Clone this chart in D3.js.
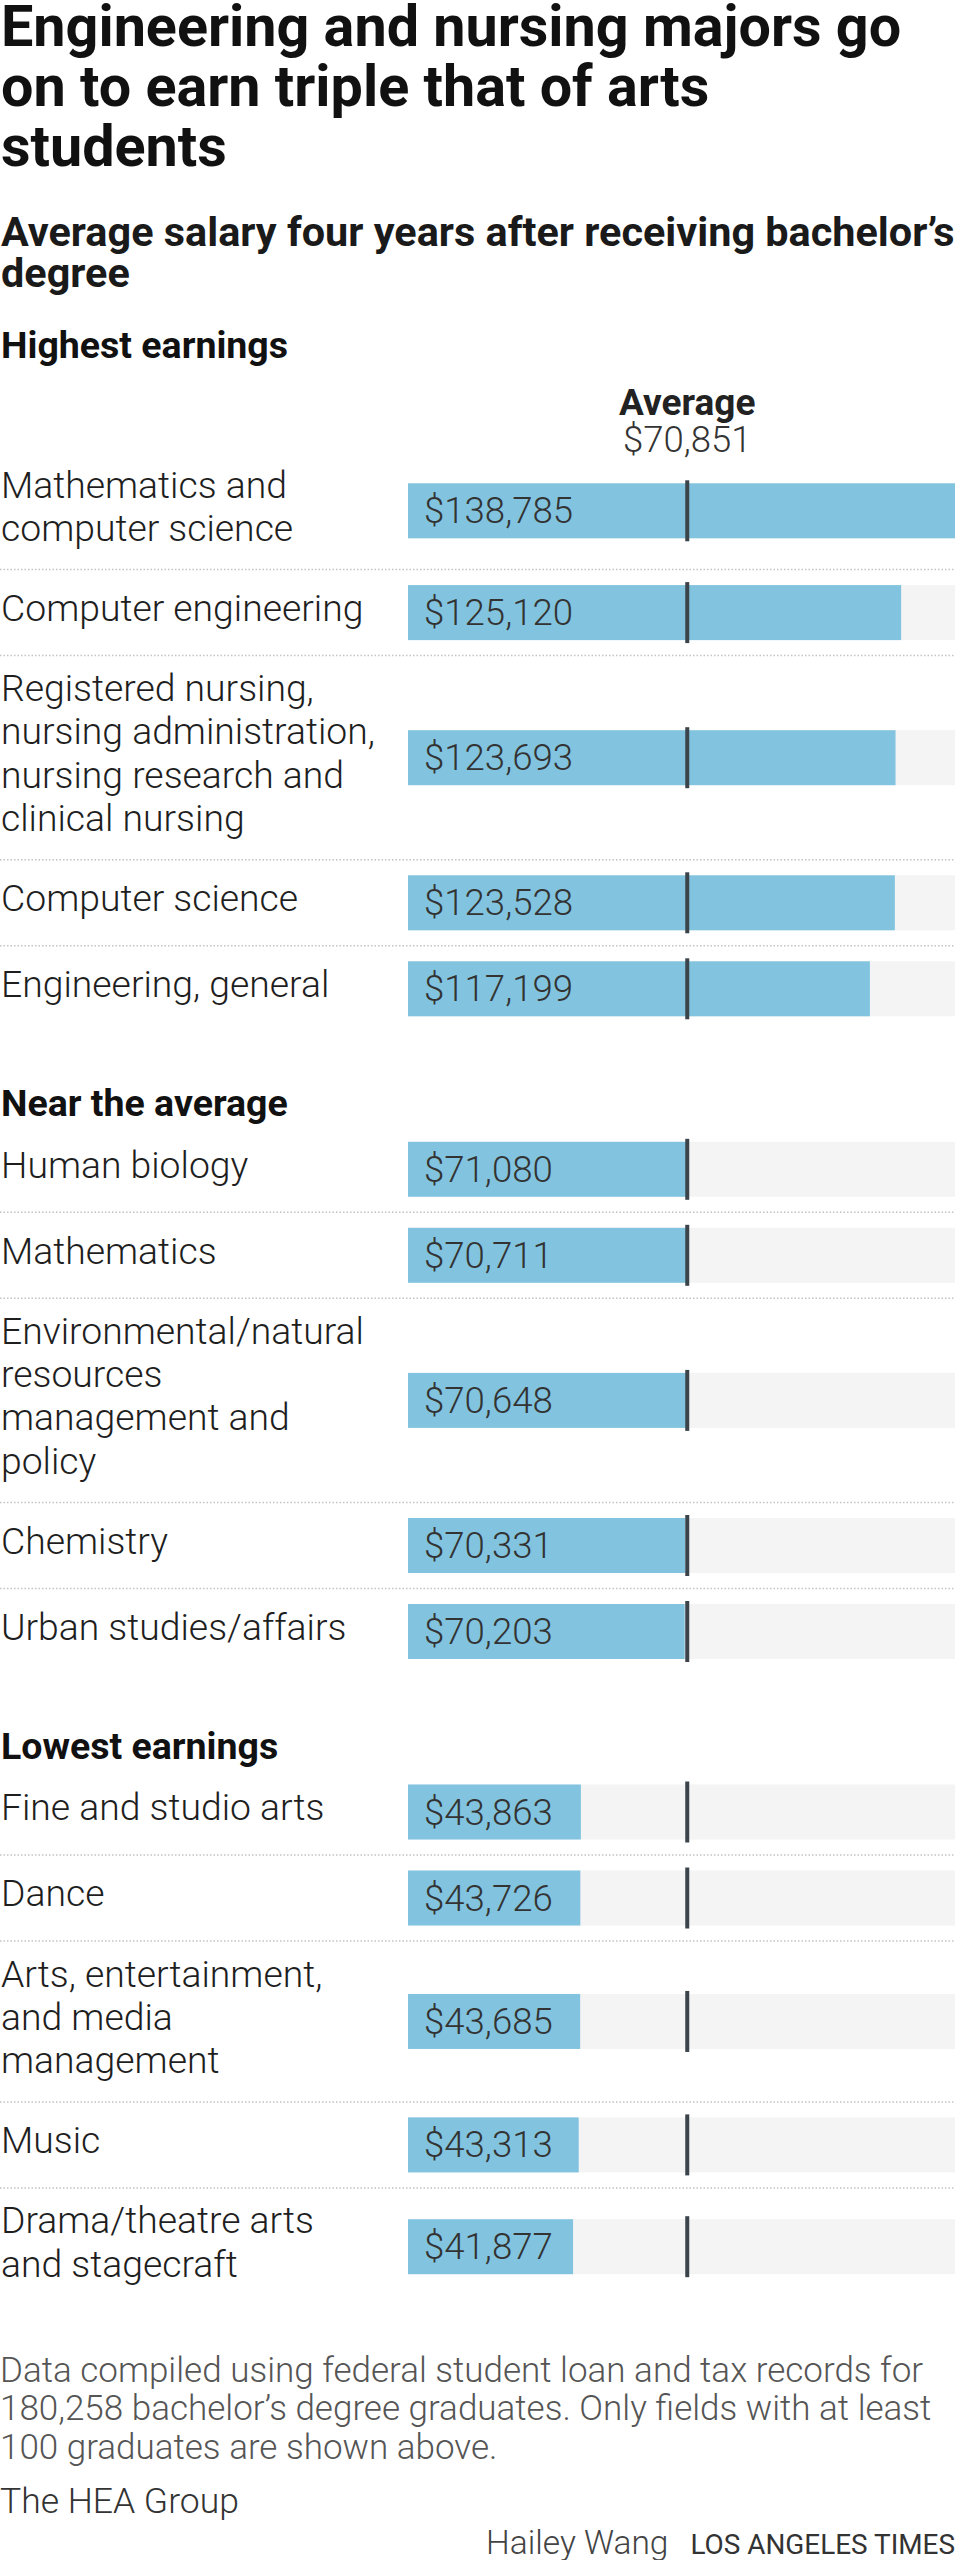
<!DOCTYPE html>
<html>
<head>
<meta charset="utf-8">
<script src="https://cdn.jsdelivr.net/npm/d3@7"></script>
<style>
  html, body { margin: 0; padding: 0; background: #fff; }
  svg { display: block; font-family: Roboto, "Liberation Sans", sans-serif; }
</style>
</head>
<body>
<div id="chart"></div>
<script>
// ---------- data ----------
const titleLines = ["Engineering and nursing majors go", "on to earn triple that of arts", "students"];
const subtitleLines = ["Average salary four years after receiving bachelor’s", "degree"];
const groupNames = ["Highest earnings", "Near the average", "Lowest earnings"];
const categories = [
  ["Mathematics and", "computer science"],
  ["Computer engineering"],
  ["Registered nursing,", "nursing administration,", "nursing research and", "clinical nursing"],
  ["Computer science"],
  ["Engineering, general"],
  ["Human biology"],
  ["Mathematics"],
  ["Environmental/natural", "resources", "management and", "policy"],
  ["Chemistry"],
  ["Urban studies/affairs"],
  ["Fine and studio arts"],
  ["Dance"],
  ["Arts, entertainment,", "and media", "management"],
  ["Music"],
  ["Drama/theatre arts", "and stagecraft"]
];
const salaries = [138785, 125120, 123693, 123528, 117199,
                  71080, 70711, 70648, 70331, 70203,
                  43863, 43726, 43685, 43313, 41877];
const groupOf = [0,0,0,0,0, 1,1,1,1,1, 2,2,2,2,2];
const averageSalary = 70851;
const averageLabel = "Average";
const noteLines = ["Data compiled using federal student loan and tax records for",
                   "180,258 bachelor’s degree graduates. Only fields with at least",
                   "100 graduates are shown above."];
const sourceText = "The HEA Group";
const bylineText = "Hailey Wang";
const outletText = "LOS ANGELES TIMES";

// ---------- setup ----------
const W = 957, H = 2560;
const svg = d3.select("#chart").append("svg").attr("width", W).attr("height", H);

const x = d3.scaleLinear().domain([0, d3.max(salaries)]).range([408, 955]);
const fmt = d3.format("$,");

const LINE = 43.3, BAR_H = 55, PAD = 15.5;
const BLUE = "#82c4df", TRACK = "#f4f4f4", AVG = "#3b444b";

// title
svg.append("g").selectAll("text").data(titleLines).join("text")
  .attr("x", 1).attr("y", (d, i) => 46 + i * 60)
  .attr("font-size", 57.5).attr("font-weight", 700).attr("fill", "#111")
  .text(d => d);

// subtitle
svg.append("g").selectAll("text").data(subtitleLines).join("text")
  .attr("x", 1).attr("y", (d, i) => 246 + i * 41)
  .attr("font-size", 41.4).attr("font-weight", 700).attr("fill", "#1a1a1a")
  .text(d => d);

// rows data
const rows = categories.map((lines, i) => ({lines, value: salaries[i], group: groupOf[i]}));

let y = 358;
groupNames.forEach((gname, gi) => {
  const g = svg.append("g");
  g.append("text").attr("x", 1).attr("y", y)
    .attr("font-size", 37.5).attr("font-weight", 700).attr("fill", "#111")
    .text(gname);
  let top;
  if (gi === 0) {
    g.append("text").attr("x", x(averageSalary)).attr("y", y + 57)
      .attr("text-anchor", "middle").attr("font-size", 37).attr("font-weight", 700).attr("fill", "#222")
      .text(averageLabel);
    g.append("text").attr("x", x(averageSalary)).attr("y", y + 94)
      .attr("text-anchor", "middle").attr("font-size", 36.5).attr("font-weight", 300).attr("fill", "#333")
      .text(fmt(averageSalary));
    top = y + 94;
  } else {
    top = y + 10.5;
  }
  const gr = rows.filter(r => r.group === gi);
  gr.forEach((r, ri) => {
    const contentH = Math.max(BAR_H, r.lines.length * LINE);
    const rowH = contentH + 2 * PAD;
    const cy = top + rowH / 2;
    const rg = g.append("g");
    // label
    rg.selectAll("text.lab").data(r.lines).join("text").attr("class", "lab")
      .attr("x", 1)
      .attr("y", (d, i) => cy - r.lines.length * LINE / 2 + 30 + i * LINE)
      .attr("font-size", 37.3).attr("font-weight", 300).attr("fill", "#1e1e1e")
      .text(d => d);
    // track
    rg.append("rect").attr("x", x(0)).attr("y", cy - BAR_H / 2)
      .attr("width", x(d3.max(salaries)) - x(0)).attr("height", BAR_H).attr("fill", TRACK);
    // bar
    rg.append("rect").attr("x", x(0)).attr("y", cy - BAR_H / 2)
      .attr("width", x(r.value) - x(0)).attr("height", BAR_H).attr("fill", BLUE);
    // value
    rg.append("text").attr("x", x(0) + 16).attr("y", cy + 12.5)
      .attr("font-size", 36.6).attr("font-weight", 300).attr("fill", "#333")
      .text(fmt(r.value));
    // average line
    rg.append("line").attr("x1", x(averageSalary)).attr("x2", x(averageSalary))
      .attr("y1", cy - BAR_H / 2 - 3).attr("y2", cy + BAR_H / 2 + 3)
      .attr("stroke", AVG).attr("stroke-width", 4);
    top += rowH;
    if (ri < gr.length - 1) {
      rg.append("line").attr("x1", 0).attr("x2", 955).attr("y1", top).attr("y2", top)
        .attr("stroke", "#c4c4c4").attr("stroke-width", 1.5).attr("stroke-dasharray", "1.5,2");
    }
  });
  y = top + 84;
});

// notes
svg.append("g").selectAll("text").data(noteLines).join("text")
  .attr("x", 0).attr("y", (d, i) => 2382 + i * 38.3)
  .attr("font-size", 35).attr("font-weight", 300).attr("fill", "#555")
  .text(d => d);
svg.append("text").attr("x", 0).attr("y", 2513)
  .attr("font-size", 35.5).attr("font-weight", 300).attr("fill", "#333").text(sourceText);

const outlet = svg.append("text").attr("x", 955).attr("y", 2554).attr("text-anchor", "end")
  .attr("font-size", 27.9).attr("font-weight", 400).attr("fill", "#333").text(outletText);
const ow = outlet.node().getComputedTextLength();
svg.append("text").attr("x", 955 - ow - 22).attr("y", 2554).attr("text-anchor", "end")
  .attr("font-size", 33.5).attr("font-weight", 300).attr("fill", "#444").text(bylineText);
</script>
</body>
</html>
